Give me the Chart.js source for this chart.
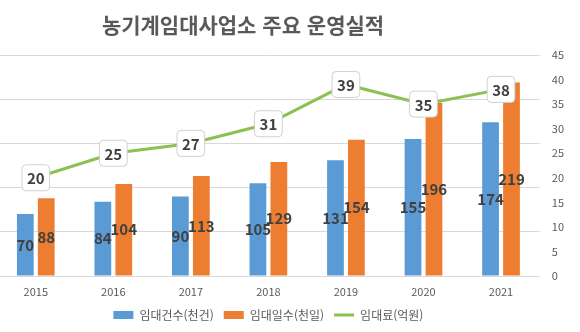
<!DOCTYPE html>
<html lang="ko">
<head>
    <meta charset="UTF-8">
    <title>농기계임대사업소 주요 운영실적</title>
    <script src="https://cdn.jsdelivr.net/npm/chart.js"></script>
    <style>
        body { margin: 0; background: #ffffff; overflow: hidden; }
        #wrap { width: 580px; height: 332px; position: relative; overflow: hidden; }
        #chart { position: absolute; left: -3px; top: 0; }
        .chart-title {
            position: absolute;
            left: 0;
            top: 12px;
            width: 486px;
            margin: 0;
            text-align: center;
            font: bold 21px/24px "Noto Sans CJK KR", "Noto Sans", sans-serif;
            color: #595959;
        }
    </style>
</head>
<body>
    <div id="wrap">
        <canvas id="chart" width="583" height="332"></canvas>
        <h1 class="chart-title">농기계임대사업소 주요 운영실적</h1>
    </div>

    <script>
        // 연도별 운영실적
        const years = ['2015', '2016', '2017', '2018', '2019', '2020', '2021'];
        const rentCount = [70, 84, 90, 105, 131, 155, 174];     // 임대건수(천건)
        const rentDays = [88, 104, 113, 129, 154, 196, 219];    // 임대일수(천일)
        const rentFee = [20, 25, 27, 31, 39, 35, 38];           // 임대료(억원)
        const feeTicks = [0, 5, 10, 15, 20, 25, 30, 35, 40, 45];

        const FONT = '"Noto Sans CJK KR", "Noto Sans", sans-serif';
        const GREY = '#595959';

        // 막대 가운데와 꺾은선 위에 값 표시
        const valueLabels = {
            id: 'valueLabels',
            afterDatasetsDraw(chart) {
                const ctx = chart.ctx;
                ctx.save();
                ctx.font = 'bold 15px ' + FONT;
                ctx.textAlign = 'center';
                ctx.textBaseline = 'middle';
                chart.data.datasets.forEach((ds, i) => {
                    const meta = chart.getDatasetMeta(i);
                    meta.data.forEach((el, j) => {
                        const text = String(ds.data[j]);
                        if (ds.type === 'line') {
                            const w = ctx.measureText(text).width + 10;
                            const h = 26;
                            ctx.beginPath();
                            ctx.roundRect(el.x - w / 2, el.y - h / 2, w, h, 4);
                            ctx.fillStyle = '#ffffff';
                            ctx.fill();
                            ctx.strokeStyle = '#d0d0d0';
                            ctx.lineWidth = 1;
                            ctx.stroke();
                            ctx.fillStyle = '#404040';
                            ctx.fillText(text, el.x, el.y + 1);
                        } else {
                            ctx.fillStyle = '#404040';
                            ctx.fillText(text, el.x, (el.y + el.base) / 2);
                        }
                    });
                });
                ctx.restore();
            }
        };

        new Chart(document.getElementById('chart'), {
            type: 'bar',
            data: {
                labels: years,
                datasets: [
                    {
                        type: 'line',
                        label: '임대료(억원)',
                        data: rentFee,
                        yAxisID: 'y1',
                        borderColor: '#8cc152',
                        backgroundColor: '#8cc152',
                        borderWidth: 3,
                        pointRadius: 0,
                        order: 0
                    },
                    {
                        label: '임대건수(천건)',
                        data: rentCount,
                        yAxisID: 'y',
                        backgroundColor: '#5b9bd5',
                        barPercentage: 0.8,
                        categoryPercentage: 0.54,
                        order: 1
                    },
                    {
                        label: '임대일수(천일)',
                        data: rentDays,
                        yAxisID: 'y',
                        backgroundColor: '#ed7d31',
                        barPercentage: 0.8,
                        categoryPercentage: 0.54,
                        order: 1
                    }
                ]
            },
            options: {
                responsive: false,
                animation: false,
                layout: { padding: { left: 0, right: 4, top: 55, bottom: 1 } },
                plugins: {
                    title: { display: false },
                    legend: {
                        position: 'bottom',
                        fullSize: false,
                        labels: {
                            color: GREY,
                            font: { family: FONT, size: 12 },
                            usePointStyle: true,
                            pointStyleWidth: 20,
                            boxHeight: 8,
                            padding: 10,
                            // 막대는 사각형, 꺾은선은 선으로 범례 표시
                            generateLabels(chart) {
                                const order = [1, 2, 0];
                                return order.map(i => {
                                    const ds = chart.data.datasets[i];
                                    const isLine = ds.type === 'line';
                                    return {
                                        text: ds.label,
                                        datasetIndex: i,
                                        fillStyle: isLine ? ds.borderColor : ds.backgroundColor,
                                        strokeStyle: isLine ? ds.borderColor : ds.backgroundColor,
                                        lineWidth: isLine ? 3 : 0,
                                        pointStyle: isLine ? 'line' : 'rect',
                                        fontColor: GREY,
                                        hidden: false
                                    };
                                });
                            }
                        }
                    },
                    tooltip: { enabled: false }
                },
                scales: {
                    x: {
                        grid: { display: false, drawTicks: false },
                        border: { display: false },
                        ticks: { color: GREY, font: { family: FONT, size: 11 }, padding: 9 },
                        // 라벨 아래쪽 여백은 빼서 범례를 가깝게 붙임
                        afterFit(scale) {
                            scale.height = scale.options.ticks.padding + 14;
                        }
                    },
                    y: {
                        position: 'left',
                        min: 0,
                        max: 250,
                        ticks: { display: false, stepSize: 50 },
                        grid: { color: '#d9d9d9', drawTicks: false },
                        border: { display: false }
                    },
                    y1: {
                        position: 'right',
                        min: 0,
                        max: 45,
                        afterBuildTicks(axis) {
                            axis.ticks = feeTicks.map(v => ({ value: v }));
                        },
                        ticks: { color: GREY, font: { family: FONT, size: 11 }, padding: 12 },
                        grid: { display: false, drawTicks: false },
                        border: { display: false }
                    }
                }
            },
            plugins: [valueLabels]
        });
    </script>
</body>
</html>
